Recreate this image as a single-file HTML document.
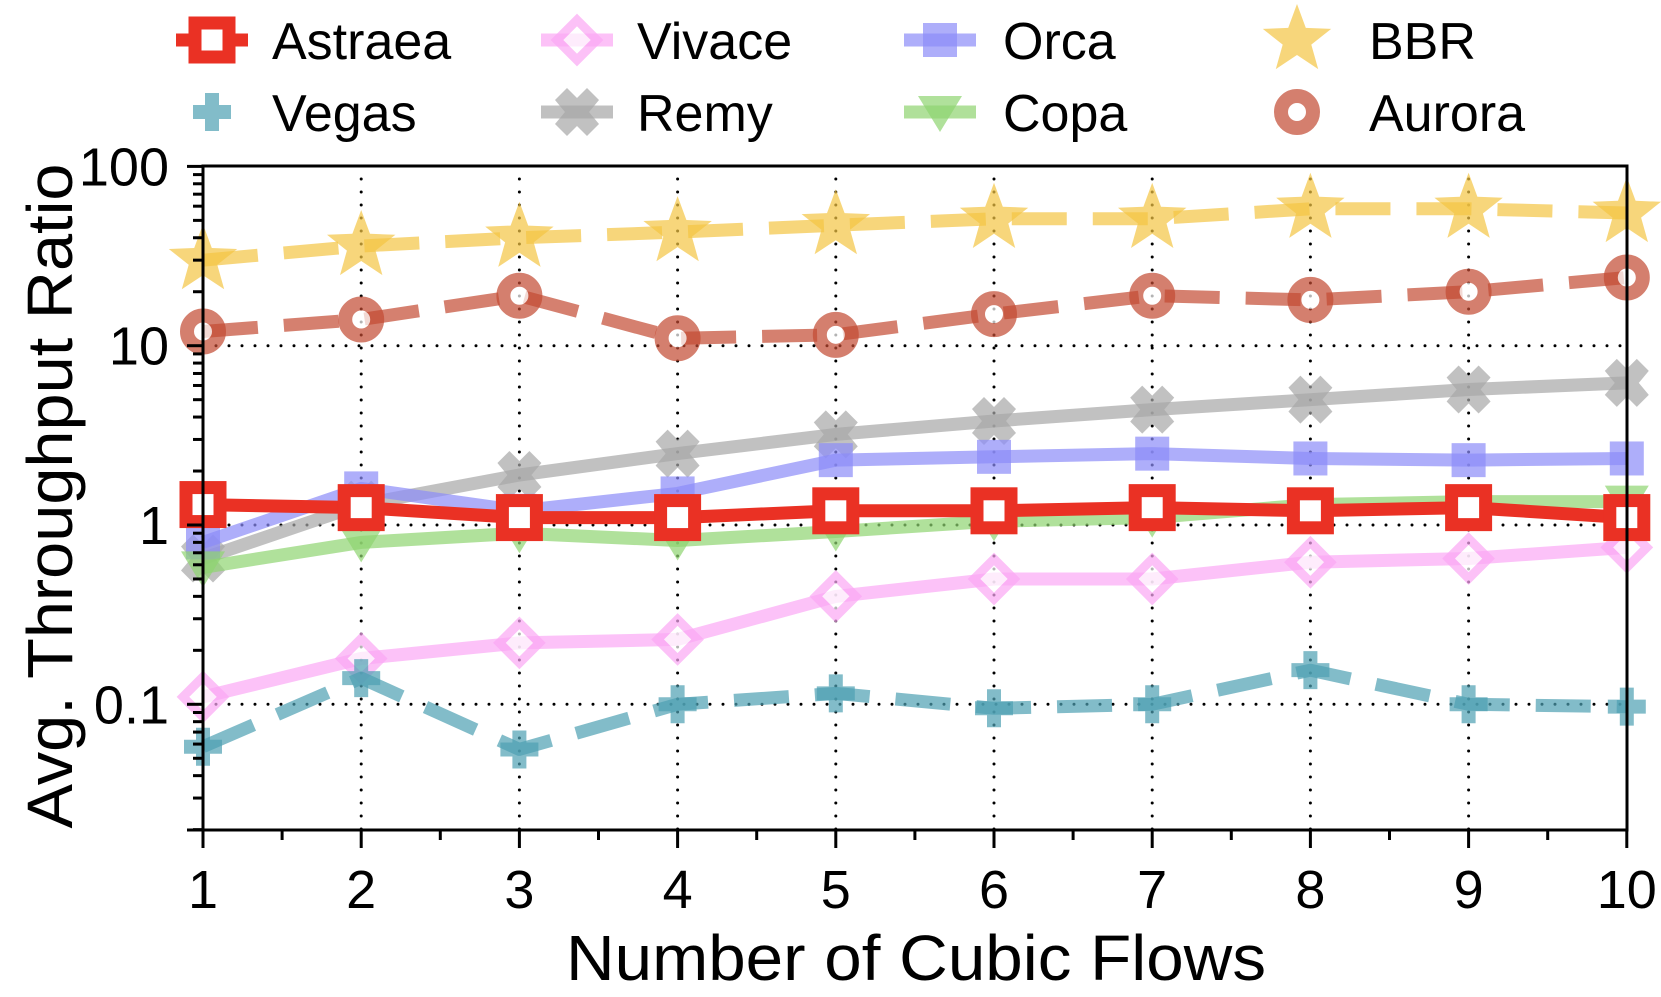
<!DOCTYPE html>
<html><head><meta charset="utf-8"><style>
html,body{margin:0;padding:0;background:#fff;}
svg{display:block;font-family:"Liberation Sans",sans-serif;}
</style></head><body>
<svg id="s" width="1661" height="997" viewBox="0 0 1661 997" xmlns="http://www.w3.org/2000/svg">
<g id="grid"></g>
<g id="series"></g>
<g id="axes"></g>
<g id="legend"></g>
<text x="916" y="980" font-size="64" text-anchor="middle" textLength="700" lengthAdjust="spacingAndGlyphs">Number of Cubic Flows</text>
<text transform="translate(72,496) rotate(-90)" font-size="64" text-anchor="middle" textLength="665" lengthAdjust="spacingAndGlyphs">Avg. Throughput Ratio</text>
</svg>
<script>
const NS="http://www.w3.org/2000/svg";
const X0=203,DX=158.2,Y1=525,DEC=179.3,TOP=166,BOT=830,RIGHT=1627;
const xs=i=>X0+(i-1)*DX, ys=v=>Y1-Math.log10(v)*DEC;
function el(p,t,a,txt){const e=document.createElementNS(NS,t);for(const k in a)e.setAttribute(k,a[k]);if(txt!==undefined)e.textContent=txt;p.appendChild(e);return e;}
const G=document.getElementById('grid'),S=document.getElementById('series'),A=document.getElementById('axes'),L=document.getElementById('legend');
for(let i=2;i<=9;i++)el(G,'line',{x1:xs(i),x2:xs(i),y1:TOP,y2:BOT,stroke:'#000','stroke-width':3,'stroke-dasharray':'0 13','stroke-linecap':'round'});
for(const v of [0.1,1,10])el(G,'line',{x1:X0,x2:RIGHT,y1:ys(v),y2:ys(v),stroke:'#000','stroke-width':3,'stroke-dasharray':'0 13','stroke-linecap':'round'});
el(A,'rect',{x:X0,y:TOP,width:RIGHT-X0,height:BOT-TOP,fill:'none',stroke:'#000','stroke-width':3});
for(let i=1;i<=10;i++){el(A,'line',{x1:xs(i),x2:xs(i),y1:BOT,y2:BOT+18,stroke:'#000','stroke-width':3});
 el(A,'text',{x:xs(i),y:908,'font-size':54,'text-anchor':'middle'},String(i));
 if(i<10)el(A,'line',{x1:xs(i)+DX/2,x2:xs(i)+DX/2,y1:BOT,y2:BOT+10,stroke:'#000','stroke-width':3});}
for(const [v,t] of [[0.1,'0.1'],[1,'1'],[10,'10'],[100,'100']]){el(A,'line',{x1:X0-16,x2:X0,y1:ys(v),y2:ys(v),stroke:'#000','stroke-width':3});
 el(A,'text',{x:X0-34,y:ys(v)+19,'font-size':54,'text-anchor':'end'},t);}
for(let d=-2;d<=1;d++)for(let m=2;m<=9;m++){const v=m*Math.pow(10,d);const y=ys(v);if(y>BOT+1||y<TOP)continue;
 el(A,'line',{x1:X0-10,x2:X0,y1:y,y2:y,stroke:'#000','stroke-width':3});}
el(A,'line',{x1:X0-16,x2:X0,y1:BOT,y2:BOT,stroke:'#000','stroke-width':3});
function marker(p,type,x,y,c,op){
 const g=el(p,'g',{opacity:op});
 if(type==='sq')el(g,'rect',{x:x-17,y:y-17,width:34,height:34,fill:'#fff',stroke:c,'stroke-width':13});
 else if(type==='fsq')el(g,'rect',{x:x-17,y:y-17,width:34,height:34,fill:c});
 else if(type==='dia')el(g,'path',{d:`M${x} ${y-20}L${x+20} ${y}L${x} ${y+20}L${x-20} ${y}Z`,fill:'#fff',stroke:c,'stroke-width':9});
 else if(type==='circ')el(g,'circle',{cx:x,cy:y,r:16,fill:'#fff',stroke:c,'stroke-width':14});
 else if(type==='plus')el(g,'path',{d:`M${x-7} ${y-19}h14v12h12v14h-12v12h-14v-12h-12v-14h12z`,fill:c});
 else if(type==='x'){el(g,'path',{d:`M${x-10} ${y-24}l10 10 10-10 12 12-10 12 10 12-12 12-10-10-10 10-12-12 10-12-10-12z`,fill:c});}
 else if(type==='tri')el(g,'path',{d:`M${x-22} ${y-16}L${x+22} ${y-16}L${x} ${y+20}Z`,fill:c});
 else if(type==='star'){let d='';for(let k=0;k<10;k++){const r=k%2?15:36,a=-Math.PI/2+k*Math.PI/5;d+=(k?'L':'M')+(x+r*Math.cos(a)).toFixed(1)+' '+(y+r*Math.sin(a)).toFixed(1);}el(g,'path',{d:d+'Z',fill:c});}
}
const series=[
 {n:'BBR',c:'#f3c443',op:0.7,m:'star',dash:'55 26',d:[30,36,40,43,47,51,51,58,58,55]},
 {n:'Aurora',c:'#c34a32',op:0.7,m:'circ',dash:'55 26',d:[12,14,19,11,11.5,15,19,18,20,24]},
 {n:'Remy',c:'#a6a6a6',op:0.7,m:'x',d:[0.65,1.3,1.9,2.5,3.2,3.8,4.4,5,5.7,6.2]},
 {n:'Orca',c:'#8c8cf8',op:0.7,m:'fsq',d:[0.8,1.6,1.2,1.5,2.3,2.4,2.5,2.35,2.3,2.35]},
 {n:'Copa',c:'#8fd470',op:0.7,m:'tri',d:[0.58,0.8,0.9,0.82,0.92,1.05,1.1,1.3,1.35,1.35]},
 {n:'Vivace',c:'#fba8f5',op:0.7,m:'dia',d:[0.11,0.18,0.22,0.23,0.4,0.5,0.5,0.62,0.65,0.75]},
 {n:'Vegas',c:'#4d9fb2',op:0.7,m:'plus',dash:'55 26',d:[0.058,0.14,0.056,0.1,0.115,0.095,0.1,0.155,0.1,0.097]},
 {n:'Astraea',c:'#ea3124',op:1,m:'sq',d:[1.3,1.25,1.1,1.1,1.2,1.2,1.25,1.2,1.25,1.1]},
];
for(const s of series){
 const pts=s.d.map((v,i)=>xs(i+1).toFixed(1)+','+ys(v).toFixed(1)).join(' ');
 const a={points:pts,fill:'none',stroke:s.c,'stroke-width':13,opacity:s.op,'stroke-linejoin':'round'};
 if(s.dash)a['stroke-dasharray']=s.dash;
 el(S,'polyline',a);
 s.d.forEach((v,i)=>marker(S,s.m,xs(i+1),ys(v),s.c,s.op));
}
const leg=[['Astraea',212,40,272],['Vivace',577,40,637],['Orca',940,40,1003],['BBR',1297,40,1369],['Vegas',212,112,272],['Remy',577,112,637],['Copa',940,112,1003],['Aurora',1297,112,1369]];
for(const [n,x,y,tx] of leg){const s=series.find(q=>q.n===n);
 const a={x1:x-36,x2:x+36,y1:y,y2:y,stroke:s.c,'stroke-width':13,opacity:s.op};
 if(n!=='Vegas'&&n!=='Aurora'&&n!=='BBR')el(L,'line',a);
 marker(L,s.m,x,y,s.c,s.op);
 el(L,'text',{x:tx,y:y+19,'font-size':52},n);}
</script>
</body></html>
